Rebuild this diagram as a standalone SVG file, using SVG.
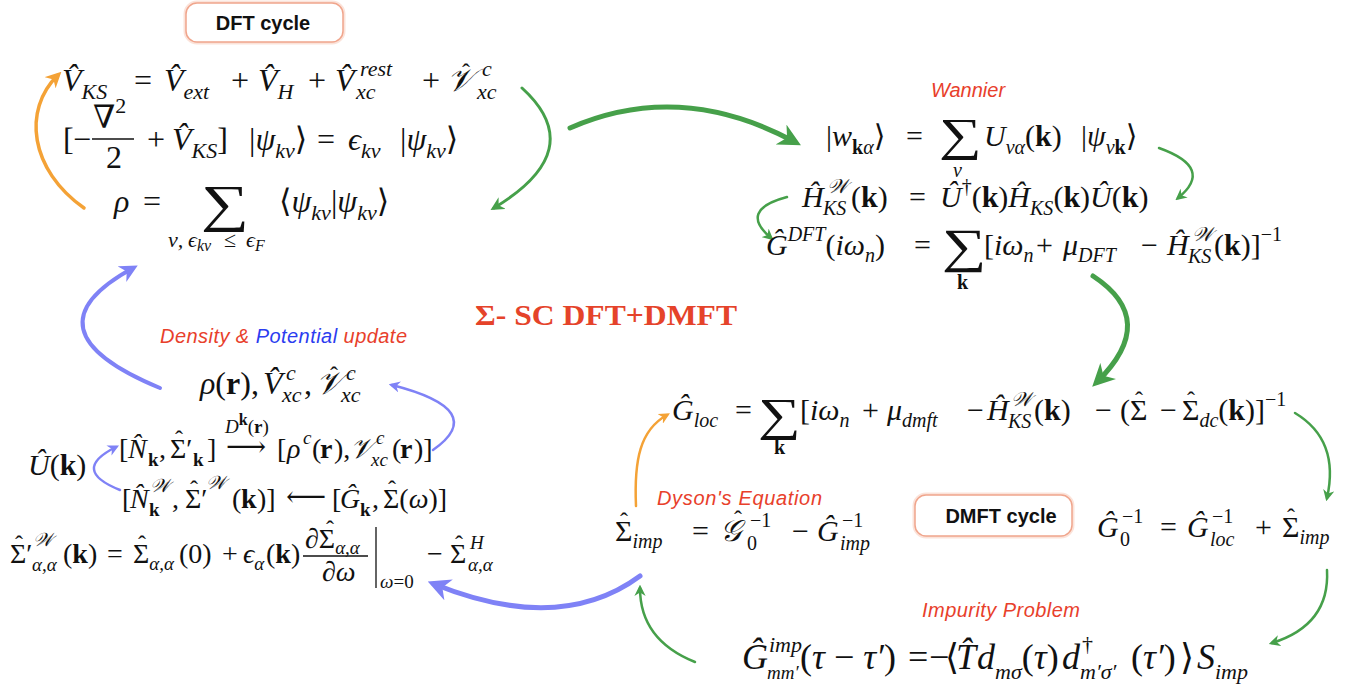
<svg xmlns="http://www.w3.org/2000/svg" width="1371" height="684" viewBox="0 0 1371 684">
<style>
.m{font-family:"Liberation Serif","DejaVu Serif",serif;font-size:32px;font-style:italic;fill:#111}
.w{font-family:"Liberation Serif","DejaVu Serif",serif;font-size:30px;font-style:italic;fill:#111}
.l{font-family:"Liberation Serif","DejaVu Serif",serif;font-size:28px;font-style:italic;fill:#111}
.t{font-family:"Liberation Serif","DejaVu Serif",serif;font-size:36px;font-style:italic;fill:#111}
.u{font-style:normal}
.b{font-weight:bold;font-style:normal}
.s{font-size:22px}
.s2{font-size:20px}
.s3{font-size:19px}
.ss{font-size:16px}
.sum{font-family:"Liberation Serif","DejaVu Serif",serif;fill:#111}
.hat{font-family:"Liberation Serif","DejaVu Serif",serif;font-size:24px;fill:#111;text-anchor:middle}
.lbl{font-family:"Liberation Sans",Arial,sans-serif;font-style:italic;font-size:20px;fill:#e8402b}
.blue{fill:#2b3cf0}
.glow{fill:none;stroke:#fbe3da;stroke-width:5}
.box{fill:#fff;stroke:#f0a58c;stroke-width:1.5}
.boxt{font-family:"Liberation Sans",Arial,sans-serif;font-weight:bold;font-size:20px;fill:#111;text-anchor:middle}
.c{fill:none;stroke-linecap:round}
.g{stroke:#46a04a}
.o{stroke:#f4a236}
.bl{stroke:#7f82f6}
.bar{stroke:#111;stroke-width:1.3}
</style>
<defs>
<marker id="ag" viewBox="0 0 10 10" refX="7" refY="5" markerWidth="4.5" markerHeight="4.5" orient="auto"><path d="M0,0 L10,5 L0,10 L3,5 z" fill="#46a04a"/></marker>
<marker id="ao" viewBox="0 0 10 10" refX="7" refY="5" markerWidth="4.5" markerHeight="4.5" orient="auto"><path d="M0,0 L10,5 L0,10 L3,5 z" fill="#f4a236"/></marker>
<marker id="ab" viewBox="0 0 10 10" refX="7" refY="5" markerWidth="4.5" markerHeight="4.5" orient="auto"><path d="M0,0 L10,5 L0,10 L3,5 z" fill="#7f82f6"/></marker>
</defs>

<g id="connectors">
<path class="c o" stroke-width="3.5" d="M84 208 C30 170 22 110 58 75" marker-end="url(#ao)"/>
<path class="c g" stroke-width="3" d="M522 88 Q590 150 494 208" marker-end="url(#ag)"/>
<path class="c g" stroke-width="5" d="M570 128 Q680 80 795 142" marker-end="url(#ag)"/>
<path class="c g" stroke-width="2.5" d="M1159 148 Q1215 168 1178 198" marker-end="url(#ag)"/>
<path class="c g" stroke-width="2.5" d="M787 197 Q738 210 771 238" marker-end="url(#ag)"/>
<path class="c g" stroke-width="5" d="M1093 276 Q1160 320 1097 382" marker-end="url(#ag)"/>
<path class="c g" stroke-width="2.5" d="M1295 413 Q1340 440 1327 498" marker-end="url(#ag)"/>
<path class="c o" stroke-width="2.5" d="M636 506 C634 460 640 430 667 415" marker-end="url(#ao)"/>
<path class="c g" stroke-width="2.5" d="M1327 570 Q1330 625 1272 643" marker-end="url(#ag)"/>
<path class="c g" stroke-width="2.5" d="M695 662 Q640 640 640 588" marker-end="url(#ag)"/>
<path class="c bl" stroke-width="5" d="M640 576 Q560 635 434 584" marker-end="url(#ab)"/>
<path class="c bl" stroke-width="4" d="M160 388 Q20 330 133 268" marker-end="url(#ab)"/>
<path class="c bl" stroke-width="2.5" d="M433 450 Q490 410 392 385" marker-end="url(#ab)"/>
<path class="c bl" stroke-width="2.5" d="M120 490 Q70 470 116 447" marker-end="url(#ab)"/>
</g>

<g id="dft-cycle">
<rect class="glow" x="186" y="3" width="157" height="39" rx="11"/>
<rect class="box" x="186" y="3" width="157" height="39" rx="11"/>
<text class="boxt" x="263" y="30">DFT cycle</text>
</g>

<g id="dft-equations">
<text class="m"><tspan x="62" y="91">V&#x302;</tspan><tspan class="s" y="99">KS</tspan><tspan class="u" x="134" y="91">=</tspan><tspan x="164" y="91">V&#x302;</tspan><tspan class="s" y="99">ext</tspan><tspan class="u" x="231" y="91">+</tspan><tspan x="258" y="91">V&#x302;</tspan><tspan class="s" y="99">H</tspan><tspan class="u" x="308" y="91">+</tspan><tspan x="335" y="91">V&#x302;</tspan><tspan class="s" x="360" y="76">rest</tspan><tspan class="s" x="356" y="99">xc</tspan><tspan class="u" x="422" y="91">+</tspan><tspan x="447" y="91">&#x1D4B1;</tspan><tspan class="s" x="482" y="76">c</tspan><tspan class="s" x="477" y="99">xc</tspan></text>
<text class="hat" x="466" y="80">ˆ</text>
<text class="m"><tspan class="u" x="63" y="150">[</tspan><tspan class="u" x="73" y="150">−</tspan><tspan class="u" x="93" y="128">∇</tspan><tspan class="s u" y="113">2</tspan><tspan class="u" x="106" y="168">2</tspan><tspan class="u" x="147" y="150">+</tspan><tspan x="172" y="150">V&#x302;</tspan><tspan class="s" y="158">KS</tspan><tspan class="u" y="150">]</tspan><tspan class="u" x="249" y="150">|</tspan><tspan y="150">ψ</tspan><tspan class="s" y="158">kν</tspan><tspan class="u" y="150">⟩</tspan><tspan class="u" x="317" y="150">=</tspan><tspan x="348" y="150">ϵ</tspan><tspan class="s" y="158">kν</tspan><tspan class="u" x="400" y="150">|</tspan><tspan y="150">ψ</tspan><tspan class="s" y="158">kν</tspan><tspan class="u" y="150">⟩</tspan></text>
<line class="bar" x1="92" y1="139" x2="134" y2="139"/>
<text class="m"><tspan x="114" y="212">ρ</tspan><tspan class="u" x="143" y="212">=</tspan><tspan class="s" x="168" y="247">ν,</tspan><tspan class="s" x="188" y="247">ϵ</tspan><tspan class="ss" y="251">kν</tspan><tspan class="s u" x="224" y="247">≤</tspan><tspan class="s" x="246" y="247">ϵ</tspan><tspan class="ss" y="251">F</tspan><tspan class="u" x="279" y="212">⟨</tspan><tspan y="212">ψ</tspan><tspan class="s" y="220">kν</tspan><tspan class="u" y="212">|</tspan><tspan y="212">ψ</tspan><tspan class="s" y="220">kν</tspan><tspan class="u" y="212">⟩</tspan></text>
<text class="sum" font-size="52" transform="translate(201 221) scale(1.3 1)">∑</text>
</g>

<g id="wannier">
<text class="lbl" x="968" y="97" text-anchor="middle">Wannier</text>
<text class="w"><tspan class="u" x="826" y="146">|</tspan><tspan y="146">w</tspan><tspan class="s2 b" y="154">k</tspan><tspan class="s2" y="154">α</tspan><tspan class="u" y="146">⟩</tspan><tspan class="u" x="906" y="146">=</tspan><tspan class="s2" x="953" y="177">ν</tspan><tspan x="984" y="146">U</tspan><tspan class="s2" y="154">να</tspan><tspan class="u" y="146">(</tspan><tspan class="b" y="146">k</tspan><tspan class="u" y="146">)</tspan><tspan class="u" x="1081" y="146">|</tspan><tspan y="146">ψ</tspan><tspan class="s2" y="154">ν</tspan><tspan class="s2 b" y="154">k</tspan><tspan class="u" y="146">⟩</tspan></text>
<text class="sum" font-size="46" transform="translate(939 150) scale(1.3 1)">∑</text>
<text class="w"><tspan x="802" y="207">H&#x302;</tspan><tspan class="s2" x="827" y="193">&#x1D4B2;</tspan><tspan class="s2" x="823" y="215">KS</tspan><tspan class="u" x="851" y="207">(</tspan><tspan class="b" y="207">k</tspan><tspan class="u" y="207">)</tspan><tspan class="u" x="909" y="207">=</tspan><tspan x="940" y="207">U&#x302;</tspan><tspan class="s2 u" y="193">†</tspan><tspan class="u" y="207">(</tspan><tspan class="b" y="207">k</tspan><tspan class="u" y="207">)</tspan><tspan y="207">H&#x302;</tspan><tspan class="s2" y="215">KS</tspan><tspan class="u" y="207">(</tspan><tspan class="b" y="207">k</tspan><tspan class="u" y="207">)</tspan><tspan y="207">U&#x302;</tspan><tspan class="u" y="207">(</tspan><tspan class="b" y="207">k</tspan><tspan class="u" y="207">)</tspan></text>
<text class="w"><tspan x="766" y="255">G&#x302;</tspan><tspan class="s2" y="241">DFT</tspan><tspan class="u" y="255">(</tspan><tspan y="255">iω</tspan><tspan class="s2" y="262">n</tspan><tspan class="u" y="255">)</tspan><tspan class="u" x="914" y="255">=</tspan><tspan class="s2 b" x="957" y="289">k</tspan><tspan class="u" x="984" y="255">[</tspan><tspan y="255">iω</tspan><tspan class="s2" y="262">n</tspan><tspan class="u" x="1036" y="255">+</tspan><tspan x="1063" y="255">μ</tspan><tspan class="s2" y="262">DFT</tspan><tspan class="u" x="1141" y="255">−</tspan><tspan x="1167" y="255">H&#x302;</tspan><tspan class="s2" x="1192" y="241">&#x1D4B2;</tspan><tspan class="s2" x="1188" y="263">KS</tspan><tspan class="u" x="1214" y="255">(</tspan><tspan class="b" y="255">k</tspan><tspan class="u" y="255">)]</tspan><tspan class="s2 u" y="241">−1</tspan></text>
<text class="sum" font-size="48" transform="translate(942 262) scale(1.3 1)">∑</text>
</g>

<text x="475" y="325" font-family="Liberation Serif,serif" font-weight="bold" font-size="30" fill="#e5432a" textLength="262" lengthAdjust="spacingAndGlyphs">Σ- SC DFT+DMFT</text>

<g id="update">
<text class="lbl" x="160" y="343" textLength="247"><tspan>Density &amp; </tspan><tspan class="blue">Potential</tspan><tspan> update</tspan></text>
<text class="m"><tspan x="200" y="394">ρ</tspan><tspan class="u" y="394">(</tspan><tspan class="b" y="394">r</tspan><tspan class="u" y="394">),</tspan><tspan x="263" y="394">V&#x302;</tspan><tspan class="s" x="286" y="380">c</tspan><tspan class="s" x="282" y="402">xc</tspan><tspan class="u" x="304" y="394">,</tspan><tspan x="316" y="394">&#x1D4B1;</tspan><tspan class="s" x="346" y="380">c</tspan><tspan class="s" x="341" y="402">xc</tspan></text>
<text class="hat" x="334" y="383">ˆ</text>
<text class="l"><tspan class="u" x="119" y="458">[</tspan><tspan x="128" y="458">N&#x302;</tspan><tspan class="s3 b" x="148" y="466">k</tspan><tspan class="u" x="159" y="458">,</tspan><tspan class="u" x="170" y="458">Σ′</tspan><tspan class="s3 b" x="193" y="466">k</tspan><tspan class="u" x="207" y="458">]</tspan><tspan class="u" x="226" y="456" textLength="42">⟶</tspan><tspan class="s3" x="225" y="433">D</tspan><tspan class="ss b" y="425">k</tspan><tspan class="s3 u" y="433">(</tspan><tspan class="s3 b" y="433">r</tspan><tspan class="s3 u" y="433">)</tspan><tspan class="u" x="277" y="458">[</tspan><tspan x="287" y="458">ρ</tspan><tspan class="s3" x="303" y="444">c</tspan><tspan class="u" x="312" y="458">(</tspan><tspan class="b" x="320" y="458">r</tspan><tspan class="u" x="334" y="458">),</tspan><tspan x="350" y="458">&#x1D4B1;</tspan><tspan class="s3" x="376" y="444">c</tspan><tspan class="s3" x="371" y="466">xc</tspan><tspan class="u" x="392" y="458">(</tspan><tspan class="b" x="400" y="458">r</tspan><tspan class="u" x="414" y="458">)]</tspan></text>
<text class="hat" x="179" y="447">ˆ</text>
<text class="w"><tspan x="28" y="475">U&#x302;</tspan><tspan class="u" y="475">(</tspan><tspan class="b" y="475">k</tspan><tspan class="u" y="475">)</tspan></text>
<text class="l"><tspan class="u" x="122" y="508">[</tspan><tspan x="130" y="508">N&#x302;</tspan><tspan class="s3" x="150" y="492">&#x1D4B2;</tspan><tspan class="s3 b" x="149" y="516">k</tspan><tspan class="u" x="172" y="508">,</tspan><tspan class="u" x="185" y="508">Σ′</tspan><tspan class="s3" x="206" y="489">&#x1D4B2;</tspan><tspan class="u" x="232" y="508">(</tspan><tspan class="b" x="241" y="508">k</tspan><tspan class="u" x="257" y="508">)]</tspan><tspan class="u" x="286" y="506" textLength="38">⟵</tspan><tspan class="u" x="332" y="508">[</tspan><tspan x="340" y="508">G&#x302;</tspan><tspan class="s3 b" x="360" y="516">k</tspan><tspan class="u" x="372" y="508">,</tspan><tspan class="u" x="383" y="508">Σ(</tspan><tspan y="508">ω</tspan><tspan class="u" y="508">)]</tspan></text>
<text class="hat" x="194" y="497">ˆ</text>
<text class="hat" x="392" y="497">ˆ</text>
<text class="l"><tspan class="u" x="10" y="563">Σ′</tspan><tspan class="s3" x="33" y="546">&#x1D4B2;</tspan><tspan class="s3" x="32" y="571">α,α</tspan><tspan class="u" x="63" y="563">(</tspan><tspan class="b" y="563">k</tspan><tspan class="u" y="563">)</tspan><tspan class="u" x="107" y="563">=</tspan><tspan class="u" x="133" y="563">Σ</tspan><tspan class="s3" y="570">α,α</tspan><tspan class="u" x="179" y="563">(0)</tspan><tspan class="u" x="222" y="563">+</tspan><tspan x="243" y="563">ϵ</tspan><tspan class="s3" y="570">α</tspan><tspan class="u" x="266" y="563">(</tspan><tspan class="b" y="563">k</tspan><tspan class="u" y="563">)</tspan><tspan class="u" x="305" y="548">∂Σ</tspan><tspan class="s3" y="554">α,α</tspan><tspan class="u" x="322" y="581">∂</tspan><tspan y="581">ω</tspan><tspan class="s3" x="380" y="588">ω</tspan><tspan class="s3 u" y="588">=0</tspan><tspan class="u" x="427" y="563">−</tspan><tspan class="u" x="450" y="563">Σ</tspan><tspan class="s3" x="470" y="549">H</tspan><tspan class="s3" x="468" y="571">α,α</tspan></text>
<text class="hat" x="19" y="552">ˆ</text>
<text class="hat" x="142" y="552">ˆ</text>
<text class="hat" x="330" y="537">ˆ</text>
<text class="hat" x="459" y="552">ˆ</text>
<line class="bar" x1="303" y1="556" x2="368" y2="556"/>
<line class="bar" x1="376" y1="527" x2="376" y2="588"/>
</g>

<g id="dmft-loc">
<text class="w"><tspan x="672" y="420">G&#x302;</tspan><tspan class="s2" y="427">loc</tspan><tspan class="u" x="735" y="420">=</tspan><tspan class="s2 b" x="774" y="454">k</tspan><tspan class="u" x="800" y="420">[</tspan><tspan y="420">iω</tspan><tspan class="s2" y="427">n</tspan><tspan class="u" x="862" y="420">+</tspan><tspan x="887" y="420">μ</tspan><tspan class="s2" y="427">dmft</tspan><tspan class="u" x="967" y="420">−</tspan><tspan x="987" y="420">H&#x302;</tspan><tspan class="s2" x="1011" y="406">&#x1D4B2;</tspan><tspan class="s2" x="1008" y="428">KS</tspan><tspan class="u" x="1034" y="420">(</tspan><tspan class="b" y="420">k</tspan><tspan class="u" y="420">)</tspan><tspan class="u" x="1095" y="420">−</tspan><tspan class="u" x="1120" y="420">(Σ</tspan><tspan class="u" x="1160" y="420">−</tspan><tspan class="u" x="1182" y="420">Σ</tspan><tspan class="s2" y="427">dc</tspan><tspan class="u" y="420">(</tspan><tspan class="b" y="420">k</tspan><tspan class="u" y="420">)]</tspan><tspan class="s2 u" y="406">−1</tspan></text>
<text class="sum" font-size="46" transform="translate(758 430) scale(1.3 1)">∑</text>
<text class="hat" x="1139" y="408">ˆ</text>
<text class="hat" x="1191" y="408">ˆ</text>
</g>

<g id="dyson">
<text class="lbl" x="657" y="505" textLength="165">Dyson's Equation</text>
<text class="w"><tspan class="u" x="615" y="541">Σ</tspan><tspan class="s2" y="548">imp</tspan><tspan class="u" x="692" y="541">=</tspan><tspan x="720" y="541">&#x1D4A2;</tspan><tspan class="s2 u" x="750" y="527">−1</tspan><tspan class="s2 u" x="747" y="550">0</tspan><tspan class="u" x="792" y="541">−</tspan><tspan x="817" y="541">G&#x302;</tspan><tspan class="s2 u" x="842" y="527">−1</tspan><tspan class="s2" x="840" y="550">imp</tspan></text>
<text class="hat" x="624" y="529">ˆ</text>
<text class="hat" x="738" y="527">ˆ</text>
</g>

<g id="dmft-cycle">
<rect class="glow" x="915" y="495" width="157" height="41" rx="11"/>
<rect class="box" x="915" y="495" width="157" height="41" rx="11"/>
<text class="boxt" x="1001" y="523">DMFT cycle</text>
</g>

<g id="g0">
<text class="w"><tspan x="1097" y="537">G&#x302;</tspan><tspan class="s2 u" x="1122" y="523">−1</tspan><tspan class="s2 u" x="1120" y="546">0</tspan><tspan class="u" x="1160" y="537">=</tspan><tspan x="1187" y="537">G&#x302;</tspan><tspan class="s2 u" x="1212" y="523">−1</tspan><tspan class="s2" x="1210" y="546">loc</tspan><tspan class="u" x="1255" y="537">+</tspan><tspan class="u" x="1282" y="537">Σ</tspan><tspan class="s2" y="544">imp</tspan></text>
<text class="hat" x="1291" y="525">ˆ</text>
</g>

<g id="impurity">
<text class="lbl" x="922" y="617" textLength="158">Impurity Problem</text>
<text class="t"><tspan x="742" y="669">G&#x302;</tspan><tspan class="s" x="769" y="652">imp</tspan><tspan class="s3" x="767" y="679">mm′</tspan><tspan class="u" x="800" y="669">(</tspan><tspan y="669">τ </tspan><tspan class="u" y="669">−</tspan><tspan y="669"> τ′</tspan><tspan class="u" y="669">)</tspan><tspan class="u" x="908" y="669">=</tspan><tspan class="u" x="929" y="669">−</tspan><tspan class="u" x="945" y="669">⟨</tspan><tspan x="956" y="669">T&#x302;</tspan><tspan x="977" y="669">d</tspan><tspan class="s" y="679">mσ</tspan><tspan class="u" y="669">(</tspan><tspan y="669">τ</tspan><tspan class="u" y="669">)</tspan><tspan x="1062" y="669">d</tspan><tspan class="s u" x="1082" y="651">†</tspan><tspan class="s" x="1080" y="679">m′σ′</tspan><tspan class="u" x="1131" y="669">(</tspan><tspan y="669">τ′</tspan><tspan class="u" y="669">)</tspan><tspan class="u" x="1180" y="669">⟩</tspan><tspan x="1197" y="669">S</tspan><tspan class="s" y="679">imp</tspan></text>
</g>
</svg>
